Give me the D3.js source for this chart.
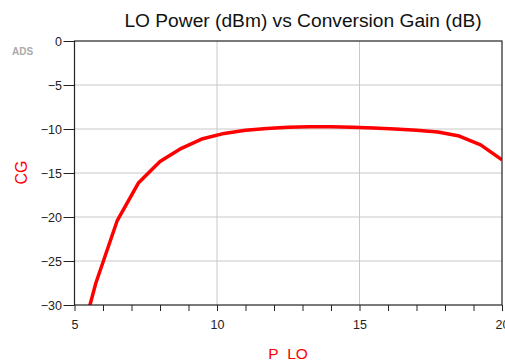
<!DOCTYPE html>
<html>
<head>
<meta charset="utf-8">
<script src="https://cdn.jsdelivr.net/npm/d3@7"></script>
<style>
  body { margin: 0; background: #fff; }
  text { font-family: "Liberation Sans", Arial, sans-serif; }
</style>
</head>
<body>
<div id="chart"></div>
<script>
const pLo = [5, 5.75, 6.5, 7.25, 8, 8.75, 9.5, 10.25, 11, 11.75, 12.5, 13.25, 14, 14.75, 15.5, 16.25, 17, 17.75, 18.5, 19.25, 20];
const cg = [-36.5, -27.5, -20.4, -16.1, -13.7, -12.2, -11.1, -10.5, -10.15, -9.95, -9.8, -9.75, -9.75, -9.8, -9.9, -10.0, -10.15, -10.35, -10.8, -11.8, -13.5];
const xTicks = [5, 10, 15, 20];
const xMinor = d3.range(5, 21, 1);
const yTicks = [0, -5, -10, -15, -20, -25, -30];

const width = 505, height = 361;
const margin = {left: 74.5, right: 3, top: 41, bottom: 56};

const svg = d3.select("#chart").append("svg")
    .attr("width", width)
    .attr("height", height);

const x = d3.scaleLinear().domain([5, 20]).range([margin.left, width - margin.right]);
const y = d3.scaleLinear().domain([-30, 0]).range([height - margin.bottom, margin.top]);

// grid
svg.append("g")
    .selectAll("line")
    .data(xTicks.slice(1, -1))
    .join("line")
    .attr("x1", d => x(d)).attr("x2", d => x(d))
    .attr("y1", y(0)).attr("y2", y(-30))
    .attr("stroke", "#c8c8c8");

svg.append("g")
    .selectAll("line")
    .data(yTicks.slice(1, -1))
    .join("line")
    .attr("x1", x(5)).attr("x2", x(20))
    .attr("y1", d => y(d)).attr("y2", d => y(d))
    .attr("stroke", "#c8c8c8");

// clip + curve
svg.append("clipPath").attr("id", "clip")
    .append("rect")
    .attr("x", x(5)).attr("y", y(0))
    .attr("width", x(20) - x(5)).attr("height", y(-30) - y(0));

const line = d3.line()
    .x((d, i) => x(pLo[i]))
    .y(d => y(d));

svg.append("path")
    .datum(cg)
    .attr("clip-path", "url(#clip)")
    .attr("fill", "none")
    .attr("stroke", "#ff0000")
    .attr("stroke-width", 3.5)
    .attr("stroke-linejoin", "round")
    .attr("d", line);

// frame
svg.append("rect")
    .attr("x", x(5)).attr("y", y(0))
    .attr("width", x(20) - x(5)).attr("height", y(-30) - y(0))
    .attr("fill", "none")
    .attr("stroke", "#222")
    .attr("stroke-width", 1.2);

// axes
const xAxis = svg.append("g")
    .attr("transform", `translate(0,${y(-30)})`)
    .call(d3.axisBottom(x).tickValues(xMinor).tickSize(6).tickFormat(""));
xAxis.select(".domain").remove();
xAxis.selectAll("line").attr("stroke", "#222");

const xLab = svg.append("g")
    .attr("transform", `translate(0,${y(-30)})`)
    .call(d3.axisBottom(x).tickValues(xTicks).tickSize(0).tickPadding(15));
xLab.select(".domain").remove();
xLab.selectAll("text")
    .style("font-family", "Liberation Sans, Arial, sans-serif")
    .style("font-size", "12.5px")
    .attr("fill", "#222");

const yAxis = svg.append("g")
    .attr("transform", `translate(${x(5)},0)`)
    .call(d3.axisLeft(y).tickValues(yTicks).tickSize(11).tickPadding(1.5));
yAxis.select(".domain").remove();
yAxis.selectAll("line").attr("stroke", "#222");
yAxis.selectAll("text")
    .style("font-family", "Liberation Sans, Arial, sans-serif")
    .style("font-size", "12.5px")
    .attr("fill", "#222");

// labels
svg.append("text")
    .attr("x", 303).attr("y", 27)
    .attr("text-anchor", "middle")
    .style("font-size", "19.2px")
    .attr("fill", "#111")
    .text("LO Power (dBm) vs Conversion Gain (dB)");

svg.append("text")
    .attr("x", 12).attr("y", 54.5)
    .style("font-size", "10px")
    .style("font-weight", "bold")
    .attr("fill", "#aaa")
    .text("ADS");

svg.append("text")
    .attr("transform", `translate(27,172.5) rotate(-90)`)
    .attr("text-anchor", "middle")
    .style("font-size", "16px")
    .attr("fill", "#ff0000")
    .text("CG");

const xTitle = svg.append("text")
    .attr("x", 288).attr("y", 358.5)
    .attr("text-anchor", "middle")
    .style("font-size", "15.5px")
    .attr("fill", "#ff0000");
xTitle.append("tspan").text("P");
xTitle.append("tspan").attr("fill", "#ffc8c8").text("_");
xTitle.append("tspan").text("LO");
</script>
</body>
</html>
